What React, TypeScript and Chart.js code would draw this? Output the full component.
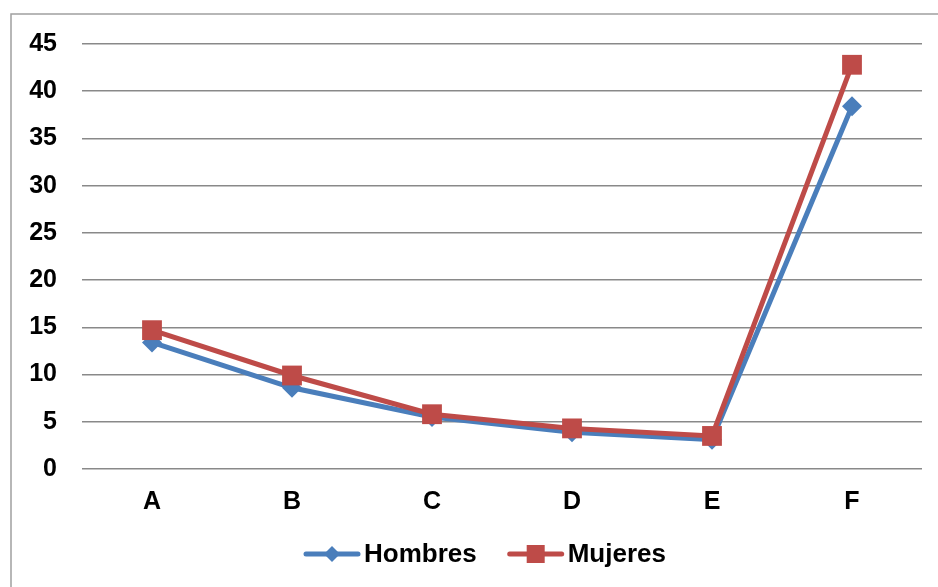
import React, { useEffect, useRef } from "react";
import { Chart, registerables } from "chart.js";

Chart.register(...registerables);

const categories = ["A", "B", "C", "D", "E", "F"];
const hombres = [13.4, 8.6, 5.5, 3.9, 3.1, 38.4];
const mujeres = [14.7, 9.9, 5.8, 4.3, 3.5, 42.8];
const yMin = 0;
const yMax = 45;
const yStep = 5;

const BLUE = "#4A7EBB";
const RED = "#BE4B48";
const FONT = "'Liberation Sans', Arial, sans-serif";

const framePlugin = {
  id: "frame",
  beforeDraw(chart: any) {
    const { ctx, width, height } = chart;
    ctx.save();
    ctx.fillStyle = "#ffffff";
    ctx.fillRect(0, 0, width, height);
    ctx.strokeStyle = "#A0A0A0";
    ctx.lineWidth = 1.5;
    ctx.strokeRect(11, 14, width + 50, height + 50);
    ctx.restore();
  },
};

const legendPlugin = {
  id: "customLegend",
  afterDraw(chart: any) {
    const { ctx } = chart;
    const items = [
      { label: "Hombres", color: BLUE, style: "diamond" },
      { label: "Mujeres", color: RED, style: "square" },
    ];
    let x = 304;
    const y = 554;
    ctx.save();
    ctx.font = `bold 26px ${FONT}`;
    ctx.textBaseline = "middle";
    ctx.textAlign = "left";
    for (const it of items) {
      ctx.strokeStyle = it.color;
      ctx.lineWidth = 5;
      ctx.lineCap = "round";
      ctx.beginPath();
      ctx.moveTo(x + 2, y);
      ctx.lineTo(x + 54, y);
      ctx.stroke();
      ctx.fillStyle = it.color;
      const cx = x + 28;
      if (it.style === "diamond") {
        ctx.beginPath();
        ctx.moveTo(cx, y - 8);
        ctx.lineTo(cx + 8, y);
        ctx.lineTo(cx, y + 8);
        ctx.lineTo(cx - 8, y);
        ctx.closePath();
        ctx.fill();
      } else {
        ctx.fillRect(cx - 9, y - 9, 18, 18);
      }
      ctx.fillStyle = "#000000";
      ctx.fillText(it.label, x + 60, y + 1);
      const w = ctx.measureText(it.label).width;
      x += 60 + w + 31;
    }
    ctx.restore();
  },
};

export default function App() {
  const ref = useRef<HTMLCanvasElement | null>(null);

  useEffect(() => {
    document.body.style.margin = "0";
    if (!ref.current) return;
    const chart = new Chart(ref.current, {
      type: "line",
      data: {
        labels: categories,
        datasets: [
          {
            label: "Hombres",
            data: hombres,
            borderColor: BLUE,
            backgroundColor: BLUE,
            borderWidth: 5,
            pointStyle: "rectRot",
            pointRadius: 10,
            pointBorderWidth: 0,
            pointBackgroundColor: BLUE,
            tension: 0,
            order: 1,
          },
          {
            label: "Mujeres",
            data: mujeres,
            borderColor: RED,
            backgroundColor: RED,
            borderWidth: 5,
            pointStyle: "rect",
            pointRadius: 14,
            pointBorderWidth: 0,
            pointBackgroundColor: RED,
            tension: 0,
            order: 0,
          },
        ],
      },
      options: {
        animation: false,
        responsive: false,
        maintainAspectRatio: false,
        layout: { padding: { left: 0, right: 16, top: 44, bottom: 64 } },
        plugins: {
          legend: { display: false },
          tooltip: { enabled: false },
        },
        scales: {
          x: {
            offset: true,
            grid: { display: false, drawTicks: false },
            border: { display: false },
            ticks: {
              color: "#000000",
              padding: 18,
              font: { family: FONT, size: 25, weight: "bold" },
            },
            afterFit(scale: any) {
              scale.height = 54;
            },
          },
          y: {
            min: yMin,
            max: yMax,
            grid: { color: "#898989", lineWidth: 1.5, drawTicks: false },
            border: { display: false },
            ticks: {
              stepSize: yStep,
              color: "#000000",
              padding: 25,
              font: { family: FONT, size: 25, weight: "bold" },
            },
            afterFit(scale: any) {
              scale.width = 82;
            },
          },
        },
      },
      plugins: [framePlugin, legendPlugin],
    });
    return () => chart.destroy();
  }, []);

  return (
    <div style={{ width: 938, height: 587 }}>
      <canvas ref={ref} width={938} height={587} style={{ display: "block" }} />
    </div>
  );
}
